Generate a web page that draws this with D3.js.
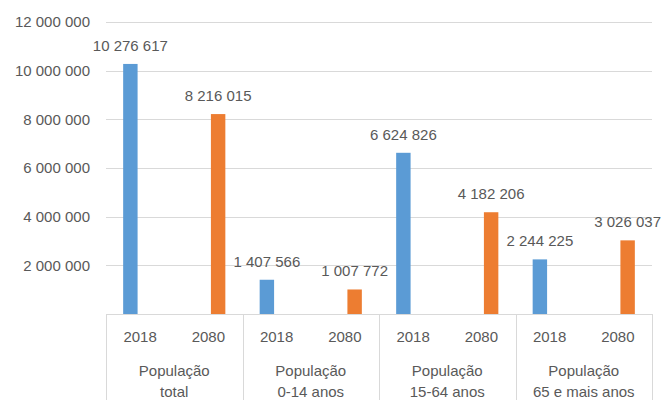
<!DOCTYPE html>
<html>
<head>
<meta charset="utf-8">
<script src="https://cdn.jsdelivr.net/npm/d3@7"></script>
<style>
  body { margin: 0; background: #fff; }
  text { font-family: "Liberation Sans", Arial, sans-serif; fill: #595959; }
</style>
</head>
<body>
<svg id="chart" width="663" height="400"></svg>
<script>
// data
const groupLines = [
    ["População", "total"],
    ["População", "0-14 anos"],
    ["População", "15-64 anos"],
    ["População", "65 e mais anos"]
];
const years = ["2018", "2080"];
const values2018 = [10276617, 1407566, 6624826, 2244225];
const values2080 = [8216015, 1007772, 4182206, 3026037];
const yTicks = [2000000, 4000000, 6000000, 8000000, 10000000, 12000000];

const colors = { "2018": "#5b9bd5", "2080": "#ed7d31" };

const svg = d3.select("#chart");
const plotLeft = 106, plotRight = 652, plotTop = 22, base = 314;

// one slot per group/year pair
const slots = [];
groupLines.forEach((g, gi) => {
    years.forEach(yr => {
        slots.push({
            id: gi + "-" + yr,
            group: gi,
            year: yr,
            v2018: yr === "2018" ? values2018[gi] : null,
            v2080: yr === "2080" ? values2080[gi] : null
        });
    });
});

const x0 = d3.scaleBand().domain(slots.map(d => d.id)).range([plotLeft, plotRight]).padding(0);
const x1 = d3.scaleBand().domain(years).range([0, x0.bandwidth()])
    .paddingInner(0.26).paddingOuter(0.88);
const y = d3.scaleLinear().domain([0, 12000000]).range([base, plotTop]);

const fmt = v => d3.format(",")(v).replace(/,/g, " ");

// gridlines
svg.append("g").selectAll("line")
    .data(yTicks)
    .join("line")
    .attr("x1", plotLeft).attr("x2", plotRight)
    .attr("y1", d => Math.round(y(d)) + 0.5)
    .attr("y2", d => Math.round(y(d)) + 0.5)
    .attr("stroke", "#d9d9d9");

// y axis labels
const yAxis = svg.append("g")
    .attr("transform", `translate(${plotLeft - 16},0)`)
    .call(d3.axisLeft(y).tickValues(yTicks).tickFormat(fmt).tickSize(0).tickPadding(0));
yAxis.select(".domain").remove();
yAxis.selectAll("text").style("font-size", "15px").attr("fill", "#595959");

// bars
const bars = [];
slots.forEach(s => {
    if (s.v2018 != null) bars.push({ slot: s.id, series: "2018", value: s.v2018 });
    if (s.v2080 != null) bars.push({ slot: s.id, series: "2080", value: s.v2080 });
});

svg.append("g").selectAll("rect")
    .data(bars)
    .join("rect")
    .attr("x", d => x0(d.slot) + x1(d.series))
    .attr("y", d => y(d.value))
    .attr("width", x1.bandwidth())
    .attr("height", d => base - y(d.value))
    .attr("fill", d => colors[d.series]);

// data labels
svg.append("g").selectAll("text")
    .data(bars)
    .join("text")
    .attr("x", d => x0(d.slot) + x1(d.series) + x1.bandwidth() / 2)
    .attr("y", d => y(d.value) - 13)
    .attr("text-anchor", "middle")
    .style("font-size", "15px")
    .text(d => fmt(d.value));

// category axis line
svg.append("line")
    .attr("x1", plotLeft).attr("x2", plotRight)
    .attr("y1", base + 0.5).attr("y2", base + 0.5)
    .attr("stroke", "#d9d9d9");

// group separators
const groupW = (plotRight - plotLeft) / groupLines.length;
svg.append("g").selectAll("line")
    .data(d3.range(groupLines.length + 1))
    .join("line")
    .attr("x1", i => Math.round(plotLeft + i * groupW) + 0.5)
    .attr("x2", i => Math.round(plotLeft + i * groupW) + 0.5)
    .attr("y1", base).attr("y2", 400)
    .attr("stroke", "#d9d9d9");

// year labels
svg.append("g").selectAll("text")
    .data(slots)
    .join("text")
    .attr("x", d => x0(d.id) + x0.bandwidth() / 2)
    .attr("y", 342)
    .attr("text-anchor", "middle")
    .style("font-size", "15px")
    .text(d => d.year);

// group labels
groupLines.forEach((lines, gi) => {
    const cx = plotLeft + gi * groupW + groupW / 2;
    lines.forEach((ln, li) => {
        svg.append("text")
            .attr("x", cx)
            .attr("y", 376 + li * 21)
            .attr("text-anchor", "middle")
            .style("font-size", "15px")
            .text(ln);
    });
});
</script>
</body>
</html>
